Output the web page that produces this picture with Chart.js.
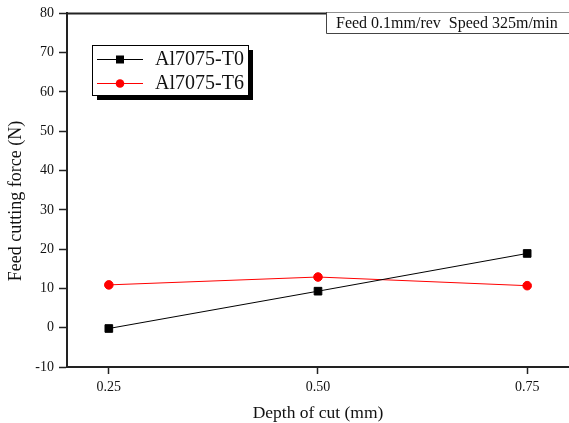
<!DOCTYPE html>
<html>
<head>
<meta charset="utf-8">
<script src="https://cdn.jsdelivr.net/npm/chart.js@4/dist/chart.umd.min.js"></script>
<style>
  html, body { margin: 0; padding: 0; background: #fff; }
  #wrap { width: 569px; height: 423px; }
</style>
</head>
<body>
<div id="wrap"><canvas id="chart" width="569" height="423"></canvas></div>
<script>
// data
const depths = [0.25, 0.50, 0.75];
const forceT0 = [-0.2, 9.3, 18.9];
const forceT6 = [10.9, 12.9, 10.7];
const seriesNames = ['Al7075-T0', 'Al7075-T6'];
const xTickLabels = ['0.25', '0.50', '0.75'];
const yTickValues = [-10, 0, 10, 20, 30, 40, 50, 60, 70, 80];
const noteText = 'Feed 0.1mm/rev  Speed 325m/min';
const xTitle = 'Depth of cut (mm)';
const yTitle = 'Feed cutting force (N)';

const SERIF = "'Liberation Serif', 'Times New Roman', serif";

// legend box, note box, frame top and y title drawn by hand
const extras = {
    id: 'extras',
    afterDraw(chart) {
        const c = chart.ctx;
        const a = chart.chartArea;
        c.save();

        // top frame line
        c.strokeStyle = '#222';
        c.lineWidth = 2;
        c.beginPath();
        c.moveTo(a.left, a.top);
        c.lineTo(chart.width, a.top);
        c.stroke();

        // note box
        c.lineWidth = 1;
        c.strokeStyle = '#444';
        c.fillStyle = '#fff';
        c.fillRect(326.5, 13, 243, 20);
        c.beginPath();
        c.moveTo(326.5, 12);
        c.lineTo(326.5, 33.5);
        c.lineTo(569, 33.5);
        c.stroke();
        c.fillStyle = '#111';
        c.font = '16px ' + SERIF;
        c.textBaseline = 'alphabetic';
        c.textAlign = 'left';
        c.fillText(noteText, 336, 28);

        // legend with shadow
        const lx = 92, ly = 45, lw = 156, lh = 50;
        c.fillStyle = '#000';
        c.fillRect(lx + 5, ly + 5, lw, lh);
        c.fillStyle = '#fff';
        c.fillRect(lx, ly, lw, lh);
        c.strokeStyle = '#000';
        c.lineWidth = 1;
        c.strokeRect(lx + 0.5, ly + 0.5, lw, lh);
        chart.data.datasets.forEach((ds, i) => {
            const ry = 59 + i * 24;
            c.strokeStyle = ds.borderColor;
            c.lineWidth = 1;
            c.beginPath();
            c.moveTo(97, ry + 0.5);
            c.lineTo(143, ry + 0.5);
            c.stroke();
            c.fillStyle = ds.borderColor;
            if (ds.pointStyle === 'rect') {
                c.fillRect(116, ry - 3.5, 8, 8);
            } else {
                c.beginPath();
                c.arc(120, ry + 0.5, 4.3, 0, Math.PI * 2);
                c.fill();
            }
            c.fillStyle = '#111';
            c.font = '20px ' + SERIF;
            c.textBaseline = 'middle';
            c.fillText(ds.label, 155, ry + 1);
        });

        // y axis title
        c.font = '18px ' + SERIF;
        c.translate(21, 201);
        c.rotate(-Math.PI / 2);
        c.fillStyle = '#111';
        c.textAlign = 'center';
        c.textBaseline = 'alphabetic';
        c.fillText(yTitle, 0, 0);

        c.restore();
    }
};

const ctx = document.getElementById('chart');

const chart = new Chart(ctx, {
    type: 'line',
    data: {
        datasets: [{
            label: seriesNames[0],
            data: depths.map((d, i) => ({ x: d, y: forceT0[i] })),
            borderColor: '#000000',
            backgroundColor: '#000000',
            borderWidth: 1,
            pointStyle: 'rect',
            pointRadius: 5.4,
            pointHoverRadius: 5.4,
            tension: 0
        }, {
            label: seriesNames[1],
            data: depths.map((d, i) => ({ x: d, y: forceT6[i] })),
            borderColor: '#ff0000',
            backgroundColor: '#ff0000',
            borderWidth: 1,
            pointStyle: 'circle',
            pointRadius: 4.3,
            pointHoverRadius: 4.3,
            tension: 0
        }]
    },
    options: {
        responsive: false,
        animation: false,
        layout: { autoPadding: false, padding: { top: 13, right: 0, left: 0, bottom: 0 } },
        plugins: {
            legend: { display: false },
            tooltip: { enabled: false }
        },
        scales: {
            x: {
                type: 'linear',
                min: 0.2,
                max: 0.8,
                afterBuildTicks: s => { s.ticks = depths.map(v => ({ value: v })); },
                afterFit: s => { s.height = 56; s.paddingLeft = 0; s.paddingRight = 0; },
                ticks: {
                    callback: (v, i) => xTickLabels[i],
                    color: '#111',
                    font: { family: SERIF, size: 14 },
                    padding: 5,
                    maxRotation: 0
                },
                grid: {
                    drawOnChartArea: false,
                    drawTicks: true,
                    tickLength: 7,
                    tickWidth: 1.5,
                    tickColor: '#222'
                },
                border: { color: '#222', width: 2 },
                title: {
                    display: true,
                    text: xTitle,
                    color: '#111',
                    font: { family: SERIF, size: 17.5 },
                    padding: { top: 0, bottom: -1 }
                }
            },
            y: {
                min: -10,
                max: 80,
                afterBuildTicks: s => { s.ticks = yTickValues.map(v => ({ value: v })); },
                afterFit: s => { s.width = 67; },
                ticks: {
                    color: '#111',
                    font: { family: SERIF, size: 14 },
                    padding: 5
                },
                grid: {
                    drawOnChartArea: false,
                    drawTicks: true,
                    tickLength: 8,
                    tickWidth: 1.5,
                    tickColor: '#222'
                },
                border: { color: '#222', width: 2 }
            }
        }
    },
    plugins: [extras]
});
</script>
</body>
</html>
